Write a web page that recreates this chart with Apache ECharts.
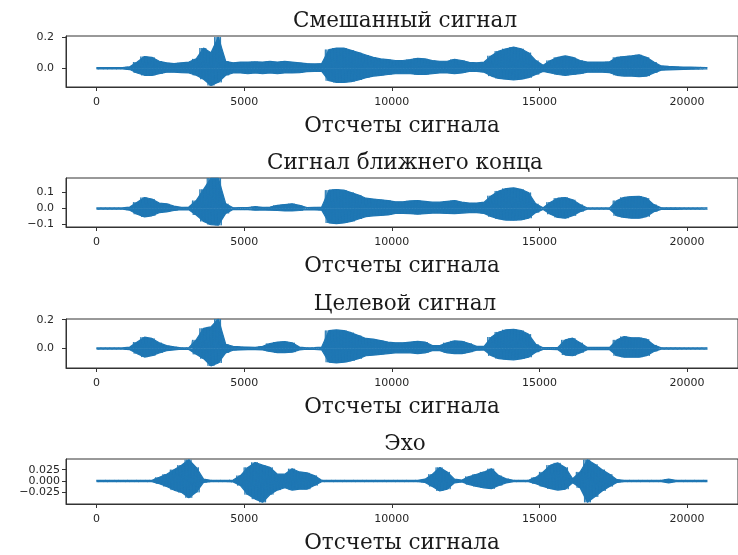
<!DOCTYPE html>
<html>
<head>
<meta charset="utf-8">
<script src="https://cdn.jsdelivr.net/npm/echarts@6/dist/echarts.min.js"></script>
<style>
  html, body { margin: 0; padding: 0; background: #fff; }
  #chart { width: 738px; height: 555px; }
</style>
</head>
<body>
<div id="chart"></div>
<script>
// subplot titles and common x label
var titles = ['Смешанный сигнал', 'Сигнал ближнего конца', 'Целевой сигнал', 'Эхо'];
var xLabel = 'Отсчеты сигнала';

// x axis (sample index)
var binSize = 250;          // each envelope value covers 250 samples
var lastSample = 20690;
var xTicks = [0, 5000, 10000, 15000, 20000];

// y ticks per subplot
var yTicks1 = [0, 0.2];
var yTicks2 = [-0.1, 0, 0.1];
var yTicks3 = [0, 0.2];
var yTicks4 = [-0.025, 0, 0.025];

// waveform envelopes: upper (hi) and lower (lo, magnitude)
// one value per 250-sample bin, 83 bins
var mixHi = [.004,.004,.004,.004,.01,.04,.075,.07,.045,.035,.03,.035,.04,.06,.13,.1,.2,.045,.035,.04,.04,.042,.04,.045,.04,.045,.04,.035,.03,.028,.03,.12,.13,.13,.115,.1,.085,.07,.06,.055,.05,.05,.055,.064,.06,.05,.045,.045,.057,.05,.038,.035,.04,.08,.11,.125,.136,.125,.1,.05,.02,.05,.07,.079,.07,.05,.04,.04,.04,.042,.07,.075,.08,.086,.07,.04,.015,.012,.01,.008,.007,.006,.005];
var mixLo = [.004,.004,.004,.004,.008,.03,.045,.045,.035,.025,.025,.028,.03,.045,.07,.11,.09,.045,.03,.03,.035,.03,.035,.03,.035,.03,.03,.028,.022,.02,.02,.08,.09,.09,.085,.075,.06,.05,.045,.04,.035,.035,.035,.04,.04,.035,.03,.03,.035,.03,.02,.02,.025,.05,.065,.07,.075,.07,.06,.04,.02,.03,.04,.045,.04,.035,.025,.025,.025,.028,.045,.05,.05,.053,.05,.03,.012,.01,.008,.007,.006,.005,.004];

var nearHi = [.004,.004,.004,.004,.01,.04,.069,.06,.035,.03,.015,.008,.01,.05,.12,.19,.19,.03,.005,.006,.006,.012,.008,.01,.02,.025,.03,.02,.006,.008,.01,.115,.119,.115,.1,.085,.065,.06,.055,.05,.042,.042,.048,.05,.045,.04,.04,.045,.05,.04,.035,.035,.04,.08,.11,.125,.129,.12,.1,.03,.005,.04,.065,.069,.055,.025,.004,.004,.004,.004,.05,.07,.075,.077,.065,.025,.005,.005,.005,.004,.004,.004,.004];
var nearLo = [.004,.004,.004,.004,.01,.035,.052,.045,.025,.02,.012,.006,.008,.04,.08,.1,.104,.03,.005,.006,.006,.01,.008,.01,.012,.015,.015,.012,.006,.008,.01,.09,.094,.09,.08,.065,.05,.045,.042,.04,.03,.03,.032,.035,.032,.028,.028,.03,.032,.028,.025,.025,.03,.05,.065,.072,.073,.07,.06,.025,.005,.035,.055,.06,.045,.02,.004,.004,.004,.004,.045,.055,.06,.06,.05,.02,.005,.005,.005,.004,.004,.004,.004];

var targetHi = [.004,.004,.004,.004,.01,.045,.079,.07,.04,.02,.012,.005,.006,.06,.14,.15,.205,.03,.015,.012,.01,.008,.015,.035,.045,.048,.04,.01,.005,.006,.01,.125,.129,.125,.11,.09,.07,.065,.055,.045,.04,.04,.045,.05,.045,.02,.02,.04,.053,.05,.035,.015,.015,.08,.115,.13,.134,.125,.1,.03,.006,.006,.008,.06,.072,.04,.008,.008,.008,.008,.06,.083,.075,.075,.065,.025,.005,.005,.005,.004,.004,.004,.004];
var targetLo = [.004,.004,.004,.004,.008,.035,.059,.05,.03,.015,.01,.005,.006,.04,.07,.12,.1,.03,.012,.01,.008,.008,.01,.02,.028,.028,.025,.01,.005,.006,.01,.095,.1,.095,.085,.07,.05,.045,.04,.035,.03,.03,.03,.035,.03,.015,.015,.03,.035,.035,.025,.012,.01,.05,.07,.075,.078,.072,.06,.025,.006,.006,.008,.045,.05,.03,.008,.008,.008,.008,.05,.06,.06,.06,.05,.02,.005,.005,.005,.004,.004,.004,.004];

var echoHi = [.0015,.0015,.0015,.0015,.0015,.0015,.0015,.0015,.008,.015,.025,.035,.047,.03,.004,.0015,.0015,.0015,.002,.012,.03,.041,.035,.03,.015,.015,.027,.02,.018,.012,.0015,.0015,.0015,.0015,.0015,.0015,.0015,.0015,.0015,.0015,.0015,.0015,.0015,.0015,.004,.015,.03,.02,.004,.002,.01,.015,.02,.027,.012,.005,.0015,.0015,.0015,.008,.02,.035,.04,.03,.005,.02,.047,.037,.025,.015,.003,.0015,.0015,.0015,.0015,.0015,.0015,.004,.0015,.0015,.0015,.0015,.0015];
var echoLo = [.0015,.0015,.0015,.0015,.0015,.0015,.0015,.0015,.006,.012,.02,.025,.037,.025,.003,.0015,.0015,.0015,.002,.01,.03,.04,.047,.03,.02,.015,.02,.018,.018,.01,.0015,.0015,.0015,.0015,.0015,.0015,.0015,.0015,.0015,.0015,.0015,.0015,.0015,.0015,.003,.012,.022,.018,.004,.002,.008,.012,.015,.017,.01,.004,.0015,.0015,.0015,.006,.012,.017,.02,.018,.004,.015,.047,.035,.022,.012,.003,.0015,.0015,.0015,.0015,.0015,.0015,.004,.0015,.0015,.0015,.0015,.0015];

// envelope points, one per bin, signed
function envelope(vals, sign) {
  var pts = [];
  for (var i = 0; i < vals.length; i++) pts.push([i * binSize + binSize / 2, sign * vals[i]]);
  pts.unshift([0, sign * vals[0]]);
  pts.push([lastSample, sign * vals[vals.length - 1]]);
  return pts;
}

// oscillating trace between the bin's upper and lower value (gives the ragged edge)
function trace(hi, lo) {
  var pts = [];
  var step = 25;
  for (var i = 0; i < hi.length; i++) {
    for (var k = 0; k < binSize / step; k++) {
      var x = i * binSize + k * step;
      if (x > lastSample) break;
      pts.push([x, k % 2 === 0 ? hi[i] : -lo[i]]);
    }
  }
  return pts;
}

function fmt(v, digits) {
  return v.toFixed(digits).replace('-', '\u2212');
}

var blue = '#1f77b4';
var layout = [
  { top: 36, height: 51, ymin: -0.12, ymax: 0.207, ticks: yTicks1, digits: 1, lm: 12, hi: mixHi, lo: mixLo },
  { top: 178, height: 49, ymin: -0.115, ymax: 0.191, ticks: yTicks2, digits: 1, lm: 12, hi: nearHi, lo: nearLo },
  { top: 319, height: 49, ymin: -0.135, ymax: 0.205, ticks: yTicks3, digits: 1, lm: 12, hi: targetHi, lo: targetLo },
  { top: 459, height: 50, ymin: -0.0508, ymax: 0.0486, ticks: yTicks4, digits: 3, lm: 6, hi: echoHi, lo: echoLo }
];

var tickFont = { fontFamily: 'DejaVu Sans', fontSize: 11, color: '#262626' };
var serif = { fontFamily: 'DejaVu Serif', fontSize: 21.5, color: '#1a1a1a', fontWeight: 'normal' };

var grids = [], xAxes = [], yAxes = [], series = [], titleList = [];
layout.forEach(function (p, i) {
  grids.push({
    left: 66, width: 681, top: p.top, height: p.height,
    show: true, borderColor: '#333', borderWidth: 1, backgroundColor: 'transparent'
  });
  titleList.push({
    text: titles[i], left: 400, top: p.top - 31, textAlign: 'center',
    textStyle: serif
  });
  xAxes.push({
    type: 'value', gridIndex: i, min: -1034, max: 21724,
    name: xLabel, nameLocation: 'middle', nameGap: 28, nameTextStyle: serif,
    axisLine: { show: true, onZero: false, lineStyle: { color: '#333', width: 1 } },
    axisTick: { show: true, length: 4, customValues: xTicks, lineStyle: { color: '#333' } },
    axisLabel: Object.assign({ margin: 10, customValues: xTicks, formatter: function (v) { return String(v); } }, tickFont),
    splitLine: { show: false }
  });
  yAxes.push({
    type: 'value', gridIndex: i, min: p.ymin, max: p.ymax,
    axisLine: { show: true, onZero: false, lineStyle: { color: '#333', width: 1 } },
    axisTick: { show: true, length: 4, customValues: p.ticks, lineStyle: { color: '#333' } },
    axisLabel: Object.assign({ margin: p.lm, customValues: p.ticks, formatter: function (v) { return fmt(v, p.digits); } }, tickFont),
    splitLine: { show: false }
  });
  [1, -1].forEach(function (sign) {
    series.push({
      type: 'line', xAxisIndex: i, yAxisIndex: i,
      data: envelope(sign > 0 ? p.hi : p.lo, sign),
      showSymbol: false, symbol: 'none',
      lineStyle: { color: blue, width: 1.2 },
      areaStyle: { color: blue, opacity: 1 },
      clip: true
    });
  });
  series.push({
    type: 'line', xAxisIndex: i, yAxisIndex: i,
    data: trace(p.hi, p.lo),
    showSymbol: false, symbol: 'none',
    lineStyle: { color: blue, width: 0.8 },
    clip: true
  });
});

var chart = echarts.init(document.getElementById('chart'));
chart.setOption({
  animation: false,
  backgroundColor: '#fff',
  title: titleList,
  grid: grids,
  xAxis: xAxes,
  yAxis: yAxes,
  series: series
});
</script>
</body>
</html>
